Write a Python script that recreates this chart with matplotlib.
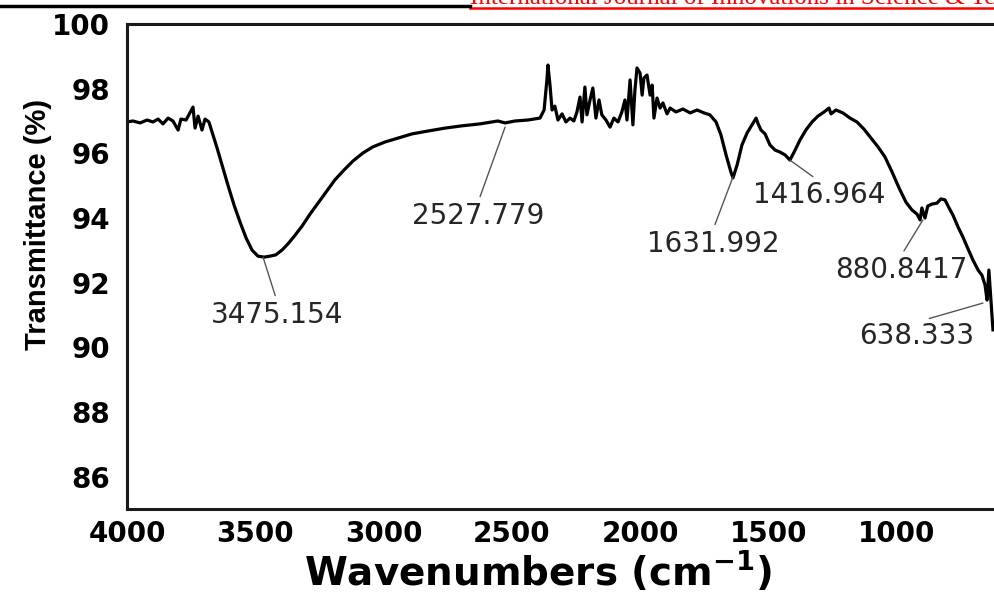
import matplotlib
matplotlib.use("Agg")
import matplotlib.pyplot as plt
from matplotlib.lines import Line2D

# FTIR spectrum (wavenumber cm-1, transmittance %)
wn = [4000, 3977, 3949, 3922, 3899, 3879, 3860, 3840, 3821, 3801, 3790, 3770,
      3755, 3743, 3735, 3723, 3708, 3696, 3681, 3665, 3649, 3630, 3607, 3583,
      3560, 3536, 3513, 3490, 3466, 3443, 3420, 3396, 3373, 3345, 3318, 3287,
      3256, 3225, 3190, 3155, 3120, 3081, 3042, 2995, 2944, 2890, 2827, 2761,
      2695, 2625, 2555, 2527, 2488, 2438, 2391, 2375, 2364, 2360, 2352, 2344,
      2333, 2321, 2305, 2290, 2274, 2259, 2247, 2235, 2227, 2216, 2208, 2196,
      2185, 2173, 2161, 2150, 2134, 2118, 2103, 2087, 2072, 2060, 2052, 2040,
      2029, 2021, 2013, 2001, 1993, 1986, 1974, 1962, 1954, 1947, 1935, 1923,
      1912, 1896, 1884, 1861, 1834, 1806, 1779, 1752, 1729, 1705, 1686, 1666,
      1647, 1639, 1623, 1604, 1584, 1565, 1549, 1541, 1530, 1514, 1495, 1475,
      1456, 1436, 1417, 1397, 1378, 1355, 1331, 1308, 1284, 1265, 1257, 1238,
      1211, 1183, 1156, 1129, 1101, 1074, 1047, 1019, 992, 965, 942, 922,
      910, 903, 891, 880, 864, 844, 829, 813, 797, 782, 762, 743,
      723, 704, 684, 669, 657, 649, 642, 634, 626]
trans = [96.97, 97.00, 96.94, 97.03, 96.97, 97.06, 96.91, 97.09, 97.00, 96.72, 97.06, 97.03,
         97.25, 97.43, 96.78, 97.15, 96.72, 97.06, 96.97, 96.57, 96.16, 95.64, 95.02, 94.40,
         93.88, 93.38, 93.01, 92.82, 92.79, 92.82, 92.86, 93.01, 93.20, 93.47, 93.75, 94.12,
         94.46, 94.80, 95.18, 95.48, 95.76, 96.01, 96.20, 96.35, 96.47, 96.60, 96.69, 96.78,
         96.85, 96.91, 97.00, 96.94, 97.00, 97.03, 97.09, 97.34, 98.27, 98.73, 98.11, 97.34,
         97.46, 97.03, 97.22, 96.97, 97.09, 97.00, 97.28, 97.74, 96.97, 98.05, 97.19, 97.65,
         98.02, 97.09, 97.65, 97.19, 97.03, 96.81, 97.09, 96.97, 97.28, 97.65, 97.03, 98.27,
         96.88, 97.96, 98.64, 98.48, 97.80, 98.33, 98.42, 97.80, 98.11, 97.09, 97.71, 97.40,
         97.56, 97.22, 97.40, 97.28, 97.37, 97.25, 97.34, 97.25, 97.19, 96.97, 96.57, 95.95,
         95.42, 95.24, 95.64, 96.26, 96.63, 96.88, 97.09, 96.91, 96.72, 96.60, 96.26, 96.10,
         96.04, 95.95, 95.79, 96.10, 96.41, 96.72, 96.97, 97.15, 97.28, 97.40, 97.22, 97.34,
         97.25, 97.09, 96.97, 96.75, 96.47, 96.20, 95.89, 95.42, 94.93, 94.49, 94.25, 94.12,
         93.94, 94.31, 94.00, 94.37, 94.43, 94.46, 94.59, 94.56, 94.31, 94.09, 93.72, 93.41,
         93.04, 92.70, 92.39, 92.23, 91.93, 91.46, 92.39, 91.46, 90.54]

# labelled bands: where the leader line touches the curve, and the label text
peak_labels = ["3475.154", "2527.779", "1631.992", "1416.964", "880.8417", "638.333"]
peak_wn = [3470, 2527, 1639, 1417, 899, 665]
peak_t = [92.79, 96.81, 95.27, 95.79, 93.94, 91.37]
label_wn = [3416, 2632, 1717, 1304, 985, 922]
label_t = [91.00, 94.06, 93.20, 94.71, 92.39, 90.35]

yticks = [86, 88, 90, 92, 94, 96, 98, 100]
xticks = [4000, 3500, 3000, 2500, 2000, 1500, 1000]

fig = plt.figure(figsize=(9.94, 5.98), dpi=100)
ax = fig.add_axes([0.1278, 0.1488, 0.8722, 0.8111])

ax.plot(wn, trans, color="black", lw=2.3, solid_joinstyle="round")

for lab, px, py, tx, ty in zip(peak_labels, peak_wn, peak_t, label_wn, label_t):
    ax.annotate(lab, xy=(px, py), xytext=(tx, ty), ha="center", va="center",
                fontsize=20, color="#262626", family="DejaVu Sans",
                arrowprops=dict(arrowstyle="-", color="#555555", lw=1.0,
                                shrinkA=2, shrinkB=0, relpos=(0.5, 1.0)))

ax.set_xlim(4000, 622)
ax.set_ylim(85, 100)
ax.set_xticks(xticks)
ax.set_yticks(yticks)
ax.tick_params(length=0)
ax.tick_params(axis="y", pad=12)
ax.tick_params(axis="x", pad=8)
for t in ax.get_xticklabels() + ax.get_yticklabels():
    t.set_fontsize(20)
    t.set_fontweight("bold")
    t.set_family("DejaVu Sans")

for s in ["left", "bottom", "top"]:
    ax.spines[s].set_linewidth(2.2)
    ax.spines[s].set_color("#1a1a1a")
ax.spines["right"].set_visible(False)

ax.set_ylabel("Transmittance (%)", fontsize=21, fontweight="bold", family="Liberation Sans")
ax.yaxis.set_label_coords(-0.087, 0.586)
ax.set_xlabel(r"Wavenumbers (cm$^{\mathbf{-1}}$)", fontsize=28, fontweight="bold",
              family="DejaVu Sans")
ax.xaxis.set_label_coords(0.474, -0.083)

# journal page header, cut off at the top of the image
fig.text(470 / 994, 1 - 4 / 598, "International Journal of Innovations in Science & Technology",
         color="red", family="Liberation Serif", fontsize=18, ha="left", va="baseline")
fig.add_artist(Line2D([470 / 994, 1.0], [1 - 7.5 / 598] * 2, color="red", lw=1.8))
fig.add_artist(Line2D([0.0, 470 / 994], [1 - 6 / 598] * 2, color="black", lw=2.5))

fig.savefig("out.png", dpi=100)
